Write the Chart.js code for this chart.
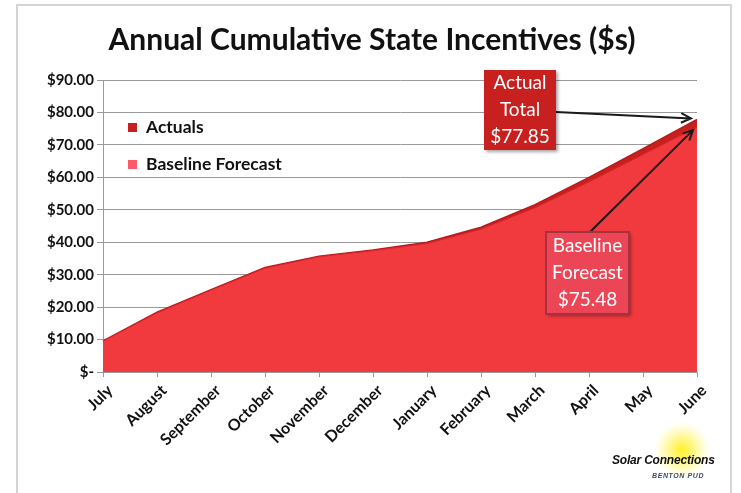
<!DOCTYPE html>
<html>
<head>
<meta charset="utf-8">
<script src="https://cdn.jsdelivr.net/npm/chart.js@4.4.1/dist/chart.umd.min.js"></script>
<style>
  html, body { margin: 0; padding: 0; background: #fff; }
  #wrap { position: relative; width: 741px; height: 493px; overflow: hidden; }
  #frame { position: absolute; left: 16px; top: 4px; width: 716px; height: 520px; border: 2px solid #d4d4d4; box-sizing: border-box; }
  #logo { position: absolute; left: 606px; top: 420px; width: 130px; height: 70px; }
  #sun { position: absolute; left: 48px; top: 2px; width: 56px; height: 56px; border-radius: 50%;
         background: radial-gradient(circle, rgba(255,240,40,1) 0%, rgba(255,245,90,0.7) 30%, rgba(255,250,160,0.25) 60%, rgba(255,255,255,0) 72%); }
  #logo .t1 { position: absolute; left: 6px; top: 33px; font: italic bold 12px "Liberation Sans", Arial, sans-serif; color: #111; letter-spacing: -0.2px; white-space: nowrap; }
  #logo .t2 { position: absolute; left: 46px; top: 52px; font: italic bold 7px "Liberation Sans", Arial, sans-serif; color: #3a4a70; letter-spacing: 0.6px; }
</style>
</head>
<body>
<div id="wrap">
  <div id="frame"></div>
  <canvas id="incentivesChart" width="741" height="493"></canvas>
  <div id="logo">
    <div id="sun"></div>
    <div class="t1">Solar Connections</div>
    <div class="t2">BENTON PUD</div>
  </div>
</div>
<script>
// Données
const months = ['July', 'August', 'September', 'October', 'November', 'December',
  'January', 'February', 'March', 'April', 'May', 'June'];
const actuals = [9.6, 18.4, 25.4, 32.2, 35.7, 37.6, 40.0, 44.6, 51.6, 60.0, 68.8, 77.85];
const baseline = [9.5, 18.2, 25.2, 32.0, 35.5, 37.4, 39.6, 44.0, 50.6, 58.6, 67.0, 75.48];
const yTicks = [0, 10, 20, 30, 40, 50, 60, 70, 80, 90];

const actualColor = '#c8201f';
const baseColor = '#f03a3d';
const font = 'Lato, "DejaVu Sans", sans-serif';

function drawArrow(ctx, x1, y1, x2, y2) {
  const ang = Math.atan2(y2 - y1, x2 - x1);
  ctx.save();
  ctx.strokeStyle = '#1a1a1a';
  ctx.lineWidth = 2;
  ctx.beginPath();
  ctx.moveTo(x1, y1);
  ctx.lineTo(x2, y2);
  ctx.moveTo(x2 - 11 * Math.cos(ang - 0.45), y2 - 11 * Math.sin(ang - 0.45));
  ctx.lineTo(x2, y2);
  ctx.lineTo(x2 - 11 * Math.cos(ang + 0.45), y2 - 11 * Math.sin(ang + 0.45));
  ctx.stroke();
  ctx.restore();
}

function drawBox(ctx, x, y, w, h, fill, border, lines) {
  ctx.save();
  ctx.shadowColor = 'rgba(0,0,0,0.35)';
  ctx.shadowOffsetX = 2;
  ctx.shadowOffsetY = 2;
  ctx.shadowBlur = 3;
  ctx.fillStyle = fill;
  ctx.fillRect(x, y, w, h);
  ctx.restore();
  if (border) {
    ctx.save();
    ctx.strokeStyle = border;
    ctx.lineWidth = 2;
    ctx.strokeRect(x, y, w, h);
    ctx.restore();
  }
  ctx.save();
  ctx.fillStyle = '#fff';
  ctx.font = '19px ' + font;
  ctx.textAlign = 'center';
  ctx.textBaseline = 'middle';
  const step = h / lines.length;
  lines.forEach((t, i) => ctx.fillText(t, x + w / 2, y + step * (i + 0.5)));
  ctx.restore();
}

// Légende et annotations dessinées par-dessus
const extras = {
  id: 'extras',
  afterDraw(chart) {
    const ctx = chart.ctx;
    const xs = chart.scales.x, ys = chart.scales.y;

    // légende dans la zone du graphique
    const leg = [
      { label: chart.data.datasets[0].label, color: actualColor, y: 127 },
      { label: chart.data.datasets[1].label, color: '#ff5a6a', y: 164 }
    ];
    ctx.save();
    ctx.font = 'bold 17.5px ' + font;
    ctx.textBaseline = 'middle';
    leg.forEach(l => {
      ctx.fillStyle = l.color;
      ctx.fillRect(128, l.y - 4, 9, 9);
      ctx.fillStyle = '#111';
      ctx.fillText(l.label, 146, l.y);
    });
    ctx.restore();

    const last = months.length - 1;
    const xEnd = xs.getPixelForValue(last);
    const yAct = ys.getPixelForValue(actuals[last]);
    const yBase = ys.getPixelForValue(baseline[last]);

    drawArrow(ctx, 556, 112, xEnd - 6, yAct - 1);
    drawArrow(ctx, 590, 232, xEnd - 4, yBase + 3);

    drawBox(ctx, 484, 70, 72, 80, actualColor, null,
      ['Actual', 'Total', '$' + actuals[last].toFixed(2)]);
    drawBox(ctx, 546, 232, 83, 82, '#ec4656', '#a83042',
      ['Baseline', 'Forecast', '$' + baseline[last].toFixed(2)]);
  }
};

new Chart(document.getElementById('incentivesChart'), {
  type: 'line',
  data: {
    labels: months,
    datasets: [{
      label: 'Actuals',
      data: actuals,
      borderColor: '#b81c1e',
      backgroundColor: actualColor,
      borderWidth: 1.5,
      pointRadius: 0,
      fill: 'origin',
      order: 1
    }, {
      label: 'Baseline Forecast',
      data: baseline,
      borderColor: '#d8282c',
      backgroundColor: baseColor,
      borderWidth: 1,
      pointRadius: 0,
      fill: 'origin',
      order: 0
    }]
  },
  options: {
    responsive: false,
    animation: false,
    devicePixelRatio: 1,
    layout: { padding: { left: 47, right: 44, top: 0, bottom: 0 } },
    plugins: {
      legend: { display: false },
      tooltip: { enabled: false },
      title: {
        display: true,
        text: 'Annual Cumulative State Incentives ($s)',
        color: '#111',
        font: { family: font, size: 30, weight: 'bold' },
        padding: { top: 22, bottom: 22 }
      }
    },
    scales: {
      x: {
        offset: false,
        border: { color: '#999', width: 1 },
        grid: { drawOnChartArea: false, drawTicks: true, tickLength: 5, color: '#999' },
        ticks: {
          color: '#111',
          font: { family: font, size: 16, weight: 'bold' },
          minRotation: 45,
          maxRotation: 45,
          padding: 4,
          labelOffset: 7,
          autoSkip: false
        },
        afterFit(scale) { scale.height = 121; }
      },
      y: {
        min: 0,
        max: 90,
        afterBuildTicks(scale) { scale.ticks = yTicks.map(v => ({ value: v })); },
        border: { color: '#999', width: 1 },
        grid: { color: '#9a9a9a', lineWidth: 1, tickLength: 6 },
        ticks: {
          color: '#111',
          font: { family: font, size: 15, weight: 'bold' },
          padding: 3,
          callback: v => v === 0 ? '$-' : '$' + v.toFixed(2)
        },
        afterFit(scale) { scale.width = 56; }
      }
    }
  },
  plugins: [extras]
});
</script>
</body>
</html>
